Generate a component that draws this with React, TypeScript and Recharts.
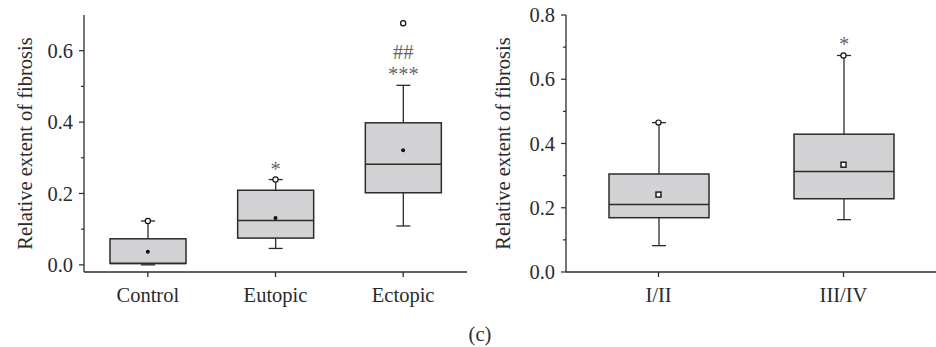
import { ComposedChart, Bar, Scatter, XAxis, YAxis } from "recharts";

// left panel: tissue groups
const groups = ["Control", "Eutopic", "Ectopic"];
const groupMin = [0.0, 0.046, 0.109];
const groupQ1 = [0.004, 0.075, 0.202];
const groupMedian = [0.004, 0.124, 0.282];
const groupQ3 = [0.073, 0.209, 0.398];
const groupMax = [0.123, 0.239, 0.503];
const groupMean = [0.037, 0.131, 0.321];
const groupMarks = [0.123, 0.239, 0.677];
const groupSig = [[], ["*"], ["***", "##"]];

// right panel: stages
const stages = ["I/II", "III/IV"];
const stageMin = [0.082, 0.163];
const stageQ1 = [0.169, 0.228];
const stageMedian = [0.21, 0.313];
const stageQ3 = [0.305, 0.429];
const stageMax = [0.465, 0.674];
const stageMean = [0.241, 0.334];
const stageMarks = [0.465, 0.674];
const stageSig = [[], ["*"]];

const leftTicks = [0, 0.1, 0.2, 0.3, 0.4, 0.5, 0.6];
const rightTicks = [0, 0.1, 0.2, 0.3, 0.4, 0.5, 0.6, 0.7, 0.8];

const INK = "#2b2b2b";
const FONT = "'Liberation Serif', 'DejaVu Serif', serif";
const FS = 20.5;

function buildRows(names, mn, q1, med, q3, mx, mean, marks, sig) {
  return names.map((name, i) => ({
    name,
    min: mn[i],
    q1: q1[i],
    median: med[i],
    q3: q3[i],
    max: mx[i],
    mean: mean[i],
    mark: marks[i],
    sig: sig[i],
    whisker: [mn[i], mx[i]],
  }));
}

const leftRows = buildRows(groups, groupMin, groupQ1, groupMedian, groupQ3, groupMax, groupMean, groupMarks, groupSig);
const rightRows = buildRows(stages, stageMin, stageQ1, stageMedian, stageQ3, stageMax, stageMean, stageMarks, stageSig);

// box drawn from the whisker range bar geometry
const BoxShape = (props: any) => {
  const { x, y, width, height, payload } = props;
  if (!payload) return null;
  const top = Math.min(y, y + height);
  const bottom = Math.max(y, y + height);
  const span = payload.max - payload.min;
  const py = (v: number) => bottom - ((v - payload.min) / span) * (bottom - top);
  const cx = x + width / 2;
  const cap = 7;
  const yq1 = py(payload.q1);
  const yq3 = py(payload.q3);
  const ymed = py(payload.median);
  return (
    <g>
      <line x1={cx} x2={cx} y1={top} y2={bottom} stroke={INK} strokeWidth={1.3} />
      <line x1={cx - cap} x2={cx + cap} y1={top} y2={top} stroke={INK} strokeWidth={1.3} />
      <line x1={cx - cap} x2={cx + cap} y1={bottom} y2={bottom} stroke={INK} strokeWidth={1.3} />
      <rect x={x} y={yq3} width={width} height={yq1 - yq3} fill="#d3d3d5" stroke={INK} strokeWidth={1.5} />
      <line x1={x} x2={x + width} y1={ymed} y2={ymed} stroke={INK} strokeWidth={1.5} />
      {payload.sig.map((s: string, i: number) => (
        <text
          key={i}
          x={cx}
          y={top - 4 - i * 22}
          textAnchor="middle"
          fill="#666"
          fontFamily={FONT}
          fontSize={FS}
        >
          {s}
        </text>
      ))}
    </g>
  );
};

const MeanDot = (props: any) => <circle cx={props.cx} cy={props.cy} r={2} fill="#111" />;
const MeanSquare = (props: any) => (
  <rect x={props.cx - 2.5} y={props.cy - 2.5} width={5} height={5} fill="#fff" stroke="#111" strokeWidth={1.4} />
);
const MarkCircle = (props: any) => (
  <circle cx={props.cx} cy={props.cy} r={2.6} fill="#fff" stroke="#111" strokeWidth={1.2} />
);

const makeYTick = (p: any) => {
  const { x, y, payload } = p;
  const major = Math.round(payload.value * 10) % 2 === 0;
  return (
    <g>
      <line x1={x} x2={x - (major ? 5 : 3)} y1={y} y2={y} stroke={INK} strokeWidth={1.2} />
      {major && (
        <text x={x - 11} y={y} dy="0.35em" textAnchor="end" fill={INK} fontFamily={FONT} fontSize={FS}>
          {payload.value.toFixed(1)}
        </text>
      )}
    </g>
  );
};

const yLabel = (dx: number) => (p: any) => {
  const vb = p.viewBox;
  const cx = vb.x + vb.width - dx;
  const cy = vb.y + vb.height / 2;
  return (
    <text
      transform={`translate(${cx},${cy}) rotate(-90)`}
      textAnchor="middle"
      dominantBaseline="central"
      fill={INK}
      fontFamily={FONT}
      fontSize={FS}
    >
      Relative extent of fibrosis
    </text>
  );
};

function Panel({ rows, width, left, yWidth, domain, ticks, barSize, labelDx, meanShape }: any) {
  return (
    <ComposedChart
      width={width}
      height={347}
      data={rows}
      margin={{ top: 15, right: 0, bottom: 45, left }}
    >
      <XAxis
        dataKey="name"
        height={30}
        stroke={INK}
        strokeWidth={1.3}
        tickSize={5}
        tickMargin={10}
        tick={{ fill: INK, fontFamily: FONT, fontSize: FS }}
        padding={{ left: 0, right: 0 }}
      />
      <YAxis
        width={yWidth}
        type="number"
        domain={domain}
        allowDataOverflow
        ticks={ticks}
        interval={0}
        stroke={INK}
        strokeWidth={1.3}
        tickLine={false}
        tickSize={0}
        tickMargin={0}
        tick={makeYTick}
        label={{ content: yLabel(labelDx) }}
      />
      <Bar dataKey="whisker" barSize={barSize} shape={BoxShape} isAnimationActive={false} />
      <Scatter dataKey="mean" shape={meanShape} isAnimationActive={false} />
      <Scatter dataKey="mark" shape={MarkCircle} isAnimationActive={false} />
    </ComposedChart>
  );
}

export default function App() {
  return (
    <div style={{ position: "absolute", left: 0, top: 0, width: 936, height: 347, background: "#fff" }}>
      <div style={{ position: "absolute", left: 0, top: 0 }}>
        <Panel
          rows={leftRows}
          width={467}
          left={24}
          yWidth={60}
          domain={[-0.02, 0.7]}
          ticks={leftTicks}
          barSize={76}
          labelDx={59}
          meanShape={MeanDot}
        />
      </div>
      <div style={{ position: "absolute", left: 470, top: 0 }}>
        <Panel
          rows={rightRows}
          width={466}
          left={16}
          yWidth={80}
          domain={[0, 0.8]}
          ticks={rightTicks}
          barSize={100}
          labelDx={63}
          meanShape={MeanSquare}
        />
      </div>
      <div
        style={{
          position: "absolute",
          left: 0,
          width: 960,
          top: 323,
          textAlign: "center",
          fontFamily: FONT,
          fontSize: FS,
          color: INK,
        }}
      >
        (c)
      </div>
    </div>
  );
}
